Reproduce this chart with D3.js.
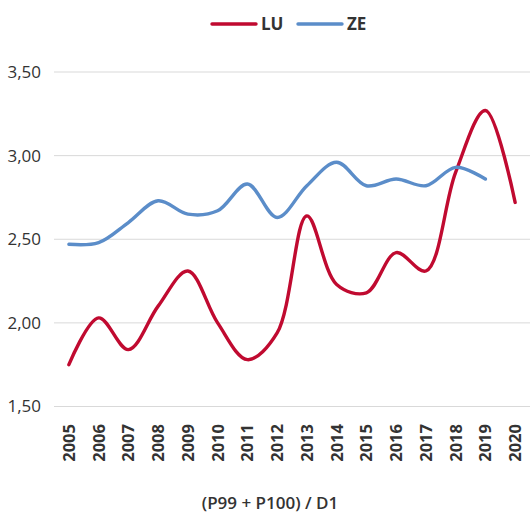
<!DOCTYPE html>
<html>
<head>
<meta charset="utf-8">
<script src="https://cdn.jsdelivr.net/npm/d3@7"></script>
<style>
  html, body { margin: 0; padding: 0; background: #fff; }
  svg { display: block; font-family: "Open Sans", "Noto Sans", sans-serif; }
</style>
</head>
<body>
<svg id="chart" width="532" height="516"></svg>
<script>
const years = ["2005","2006","2007","2008","2009","2010","2011","2012","2013","2014","2015","2016","2017","2018","2019","2020"];
const luValues = [1.75, 2.03, 1.84, 2.10, 2.31, 2.00, 1.78, 1.94, 2.64, 2.23, 2.18, 2.42, 2.31, 2.90, 3.27, 2.72];
const zeValues = [2.47, 2.48, 2.60, 2.73, 2.65, 2.67, 2.83, 2.63, 2.82, 2.96, 2.82, 2.86, 2.82, 2.93, 2.86, null];
const yTicks = [1.5, 2.0, 2.5, 3.0, 3.5];
const seriesNames = ["LU", "ZE"];
const seriesColors = ["#C00A30", "#5B8DC9"];
const axisTitle = "(P99 + P100) / D1";

const svg = d3.select("#chart");
const plotLeft = 54, plotRight = 530, plotTop = 72, plotBottom = 406.5;

const x = d3.scaleBand().domain(years).range([plotLeft, plotRight]).paddingInner(0).paddingOuter(0);
const y = d3.scaleLinear().domain([1.5, 3.5]).range([plotBottom, plotTop]);
const fmt = v => d3.format(".2f")(v).replace(".", ",");

// gridlines
svg.append("g")
  .selectAll("line")
  .data(yTicks)
  .join("line")
  .attr("x1", plotLeft).attr("x2", plotRight)
  .attr("y1", d => y(d)).attr("y2", d => y(d))
  .attr("stroke", "#d9d9d9").attr("stroke-width", 1);

// y labels
svg.append("g")
  .selectAll("text")
  .data(yTicks)
  .join("text")
  .attr("x", 41).attr("y", d => y(d))
  .attr("dy", "0.35em")
  .attr("text-anchor", "end")
  .attr("font-size", 17)
  .attr("fill", "#333")
  .text(fmt);

// x labels
svg.append("g")
  .selectAll("text")
  .data(years)
  .join("text")
  .attr("transform", d => `translate(${x(d) + x.bandwidth() / 2},424) rotate(-90)`)
  .attr("dy", "0.36em")
  .attr("text-anchor", "end")
  .attr("font-size", 16.5)
  .attr("font-weight", 700)
  .attr("fill", "#333")
  .text(d => d);

// lines
const line = d3.line()
  .defined(d => d.v != null)
  .x(d => x(d.year) + x.bandwidth() / 2)
  .y(d => y(d.v))
  .curve(d3.curveCatmullRom.alpha(0.5));

const series = [luValues, zeValues];
series.forEach((vals, i) => {
  const pts = years.map((yr, j) => ({ year: yr, v: vals[j] }));
  svg.append("path")
    .datum(pts)
    .attr("d", line)
    .attr("fill", "none")
    .attr("stroke", seriesColors[i])
    .attr("stroke-width", 3.4)
    .attr("stroke-linecap", "round")
    .attr("stroke-linejoin", "round");
});

// legend
const legendX = [212, 298];
seriesNames.forEach((name, i) => {
  const g = svg.append("g").attr("transform", `translate(${legendX[i]},24)`);
  g.append("line").attr("x1", 0).attr("x2", 44).attr("y1", 0).attr("y2", 0)
    .attr("stroke", seriesColors[i]).attr("stroke-width", 3.4).attr("stroke-linecap", "round");
  g.append("text").attr("x", 49).attr("y", 0).attr("dy", "0.36em")
    .attr("font-size", 17).attr("font-weight", 700).attr("fill", "#333").text(name);
});

// axis title
svg.append("text")
  .attr("x", 270).attr("y", 509)
  .attr("text-anchor", "middle")
  .attr("font-size", 17)
  .attr("font-weight", 600)
  .attr("fill", "#333")
  .text(axisTitle);
</script>
</body>
</html>
